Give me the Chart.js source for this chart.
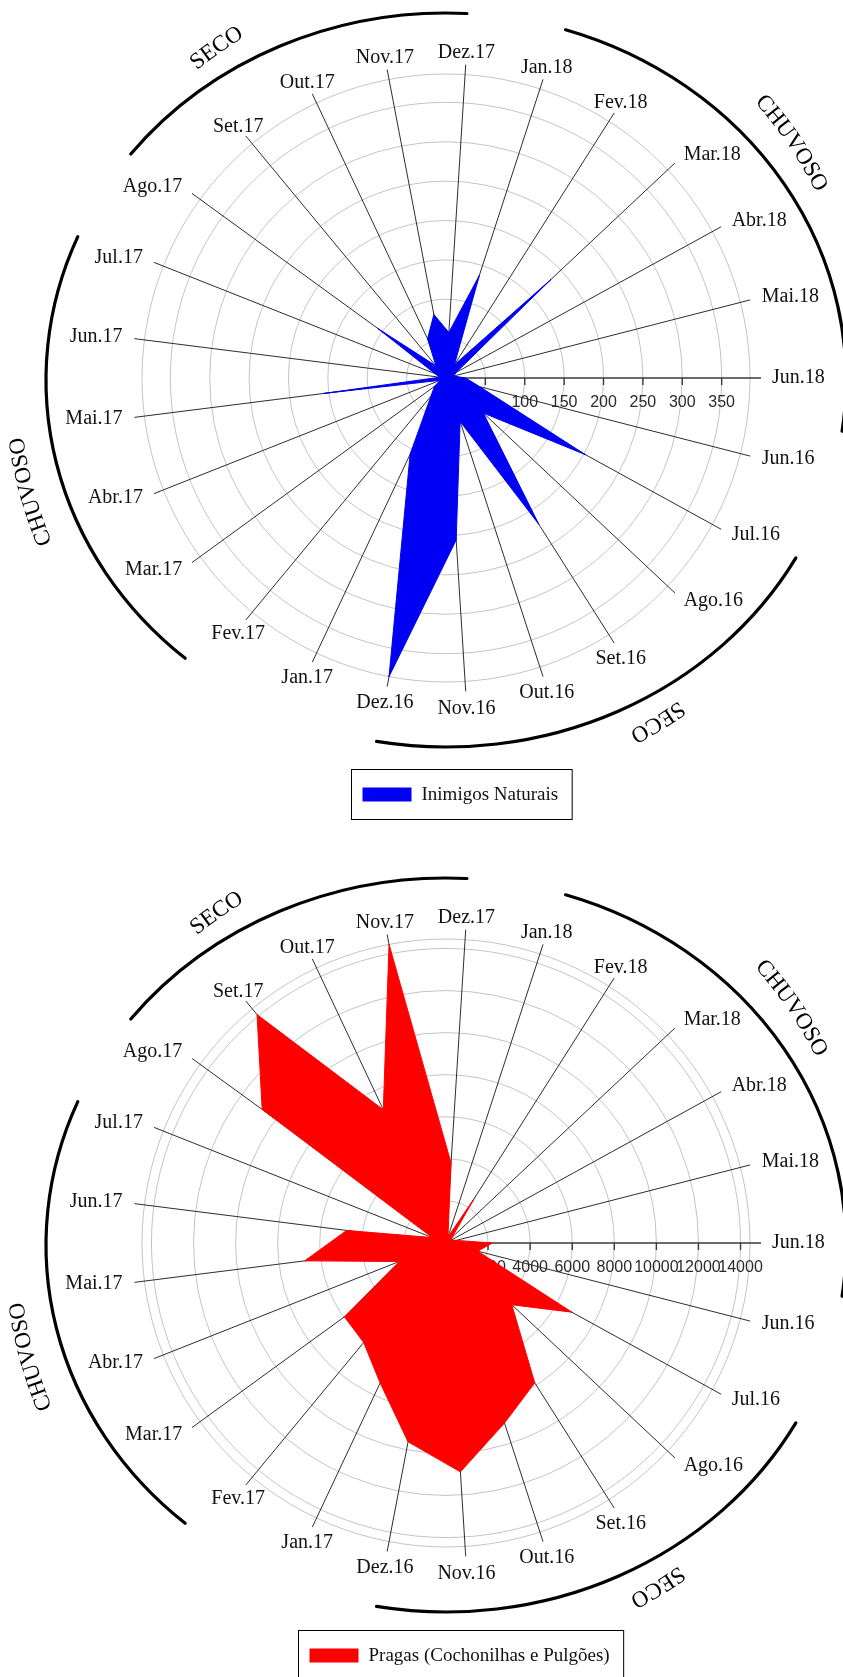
<!DOCTYPE html>
<html>
<head>
<meta charset="utf-8">
<script src="https://cdn.jsdelivr.net/npm/chart.js@4/dist/chart.umd.min.js"></script>
<style>
  html, body { margin: 0; padding: 0; background: #ffffff; }
  body { width: 843px; height: 1677px; position: relative; overflow: hidden; }
  canvas { position: absolute; left: 0; }
  #chartInimigos { top: 0; }
  #chartPragas { top: 838px; }
</style>
</head>
<body>
<canvas id="chartInimigos" width="843" height="838"></canvas>
<canvas id="chartPragas" width="843" height="839"></canvas>
<script>
// Monthly samples, June 2016 to June 2018
const months = ['Jun.16','Jul.16','Ago.16','Set.16','Out.16','Nov.16','Dez.16','Jan.17','Fev.17','Mar.17',
                'Abr.17','Mai.17','Jun.17','Jul.17','Ago.17','Set.17','Out.17','Nov.17','Dez.17','Jan.18',
                'Fev.18','Mar.18','Abr.18','Mai.18','Jun.18'];

// Natural enemies counted per month
const inimigosNaturais = [44, 202, 65, 220, 58, 206, 386, 107, 30, 18,
                          8, 157, 8, 15, 107, 20, 55, 82, 58, 137,
                          20, 183, 15, 10, 25];

// Pests (scale insects and aphids) counted per month
const pragas = [1560, 6830, 4290, 7870, 9000, 10900, 9620, 7350, 6140, 5960,
                2390, 6770, 4760, 700, 10800, 14090, 7000, 14450, 3810, 300,
                2500, 400, 300, 500, 2200];

// Radial axis tick values
const inimigosTicks = [50, 100, 150, 200, 250, 300, 350];
const pragasTicks = [2000, 4000, 6000, 8000, 10000, 12000, 14000];

// Seasons marked around each plot
const seasonNames = ['SECO', 'CHUVOSO', 'SECO', 'CHUVOSO'];

const SERIF = '"Liberation Serif", "Times New Roman", serif';
const SANS = '"Liberation Sans", Arial, sans-serif';

// Season arcs: ellipse parametric angles (deg); label: polar angle (deg) and distance from centre
const seasonLayout = [
  { arc: [-142, -87],  label: { angle: -124.8, dist: 402 } },
  { arc: [-72.6, 8],   label: { angle: -34.2,  dist: 420 } },
  { arc: [29, 100],    label: { angle: 58.4,   dist: 404 } },
  { arc: [130.7, 203], label: { angle: 164.7,  dist: 433 } }
];

function drawArcText(ctx, text, cx, cy, radius, midDeg) {
  const widths = [...text].map(ch => ctx.measureText(ch).width);
  const total = widths.reduce((a, b) => a + b, 0);
  let angle = midDeg * Math.PI / 180 - total / radius / 2;
  [...text].forEach((ch, k) => {
    const a = angle + widths[k] / 2 / radius;
    ctx.save();
    ctx.translate(cx + radius * Math.cos(a), cy + radius * Math.sin(a));
    ctx.rotate(a + Math.PI / 2);
    ctx.fillText(ch, 0, 0);
    ctx.restore();
    angle += widths[k] / radius;
  });
}

const polarDecor = {
  id: 'polarDecor',
  beforeDatasetsDraw(chart, args, opts) {
    const s = chart.scales.r;
    const ctx = chart.ctx;
    const cx = s.xCenter, cy = s.yCenter, R = s.drawingArea;
    const n = chart.data.labels.length;
    ctx.save();
    // spokes
    ctx.strokeStyle = '#151515';
    ctx.lineWidth = 0.9;
    for (let i = 0; i < n - 1; i++) {
      const p = s.getPointPosition(i, R + 10);
      ctx.beginPath(); ctx.moveTo(cx, cy); ctx.lineTo(p.x, p.y); ctx.stroke();
    }
    // radial axis on the last spoke
    const axisEnd = s.getPointPosition(n - 1, R + 11);
    ctx.strokeStyle = '#3a3a3a';
    ctx.lineWidth = 1.4;
    ctx.beginPath(); ctx.moveTo(cx, cy); ctx.lineTo(axisEnd.x, axisEnd.y); ctx.stroke();
    ctx.fillStyle = '#2a2a2a';
    ctx.font = '16px ' + SANS;
    ctx.textAlign = 'center';
    ctx.textBaseline = 'middle';
    opts.ticks.forEach(v => {
      const p = s.getPointPosition(n - 1, s.getDistanceFromCenterForValue(v));
      ctx.beginPath(); ctx.moveTo(p.x, p.y); ctx.lineTo(p.x, p.y + 7); ctx.stroke();
      ctx.fillText(String(v), p.x, p.y + 25);
    });
    ctx.restore();
  },
  afterDatasetsDraw(chart, args, opts) {
    const s = chart.scales.r;
    const ctx = chart.ctx;
    const cx = s.xCenter, cy = s.yCenter, R = s.drawingArea;
    ctx.save();
    // month labels at the end of each spoke
    ctx.fillStyle = '#111';
    ctx.font = '20px ' + SERIF;
    chart.data.labels.forEach((lab, i) => {
      const p = s.getPointPosition(i, R + 22);
      const c = (p.x - cx) / (R + 22), sn = (p.y - cy) / (R + 22);
      let y = p.y;
      if (c > 0.7) ctx.textAlign = 'left';
      else if (c < -0.7) ctx.textAlign = 'right';
      else { ctx.textAlign = 'center'; if (sn > 0.5) y += 5; }
      ctx.textBaseline = 'middle';
      ctx.fillText(lab, p.x, y);
    });
    // season arcs and their names
    const ex = cx, ey = cy + 2;
    ctx.strokeStyle = '#000';
    ctx.lineWidth = 3.2;
    ctx.lineCap = 'round';
    ctx.font = '23px ' + SERIF;
    ctx.fillStyle = '#000';
    ctx.textAlign = 'center';
    ctx.textBaseline = 'middle';
    seasonLayout.forEach((sl, k) => {
      ctx.beginPath();
      ctx.ellipse(ex, ey, 400, 367, 0, sl.arc[0] * Math.PI / 180, sl.arc[1] * Math.PI / 180);
      ctx.stroke();
      drawArcText(ctx, seasonNames[k], cx, cy, sl.label.dist, sl.label.angle);
    });
    // boxed legend
    const ds = chart.data.datasets[0];
    ctx.font = '19px ' + SERIF;
    const tw = ctx.measureText(ds.label).width;
    const boxW = tw + 84, boxH = 50;
    const bx = Math.round(cx + 15 - boxW / 2) + 0.5;
    const by = Math.round(cy + opts.legendOffset) + 0.5;
    ctx.strokeStyle = '#000';
    ctx.lineWidth = 1;
    ctx.strokeRect(bx, by, boxW, boxH);
    ctx.fillStyle = ds.backgroundColor;
    ctx.fillRect(bx + 11, by + 18, 49, 14);
    ctx.fillStyle = '#111';
    ctx.textAlign = 'left';
    ctx.fillText(ds.label, bx + 70, by + boxH / 2 + 1);
    ctx.restore();
  }
};

function makeRadar(canvasId, label, values, color, tickValues, padding, legendOffset) {
  const maxValue = Math.max(...values);
  return new Chart(document.getElementById(canvasId), {
    type: 'radar',
    data: {
      labels: months,
      datasets: [{
        label: label,
        data: values,
        backgroundColor: color,
        borderColor: color,
        borderWidth: 1,
        pointRadius: 0,
        pointHoverRadius: 0,
        tension: 0,
        fill: true
      }]
    },
    options: {
      responsive: false,
      animation: false,
      layout: { padding: padding },
      plugins: {
        legend: { display: false },
        tooltip: { enabled: false },
        polarDecor: { ticks: tickValues, legendOffset: legendOffset }
      },
      scales: {
        r: {
          min: 0,
          max: maxValue,
          startAngle: 360 / months.length + 90,
          angleLines: { display: false },
          pointLabels: { display: false },
          grid: { circular: true, color: '#c4c4c4', lineWidth: 1 },
          ticks: { display: false },
          afterBuildTicks: (scale) => {
            scale.ticks = [0, ...tickValues, maxValue].map(v => ({ value: v }));
          }
        }
      }
    },
    plugins: [polarDecor]
  });
}

makeRadar('chartInimigos', 'Inimigos Naturais', inimigosNaturais, '#0000f4', inimigosTicks,
          { left: 142, right: 93, top: 74, bottom: 156 }, 391);
makeRadar('chartPragas', 'Pragas (Cochonilhas e Pulgões)', pragas, '#ff0000', pragasTicks,
          { left: 142, right: 93, top: 101, bottom: 130 }, 387);
</script>
</body>
</html>
